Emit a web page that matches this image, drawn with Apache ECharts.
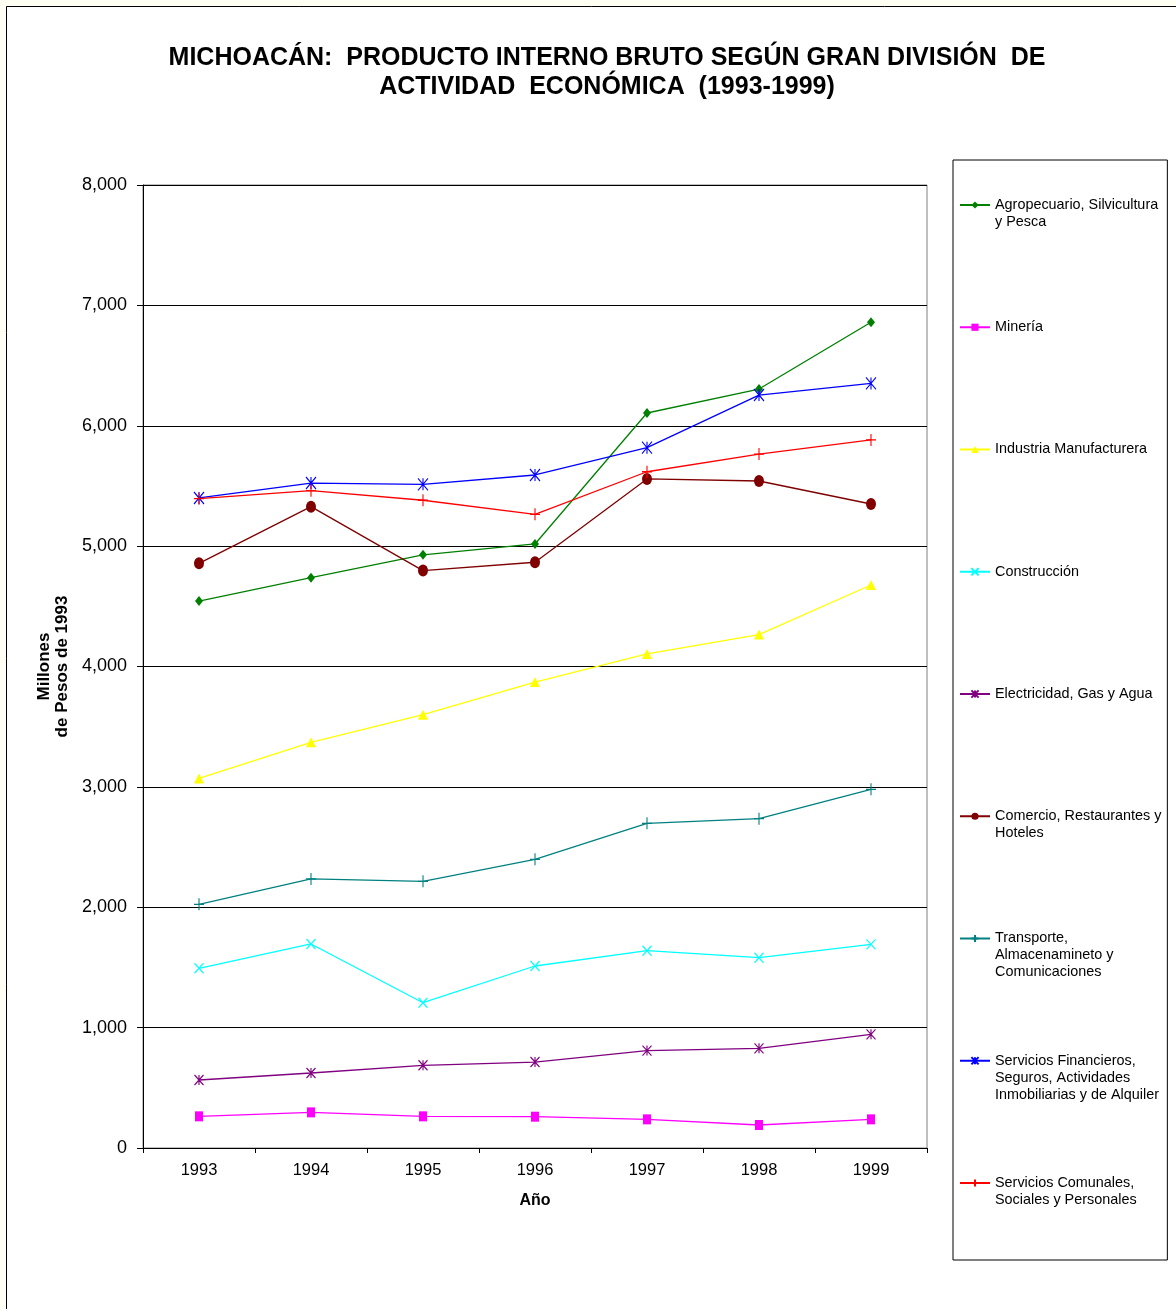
<!DOCTYPE html>
<html>
<head>
<meta charset="utf-8">
<script src="https://cdn.jsdelivr.net/npm/echarts@6/dist/echarts.min.js"></script>
<style>
html,body{margin:0;padding:0;background:#fffff4;}
#c{width:1176px;height:1309px;}
</style>
</head>
<body>
<div id="c"></div>
<script>
const years = ['1993','1994','1995','1996','1997','1998','1999'];
const yTicks = [0,1000,2000,3000,4000,5000,6000,7000,8000];

const agro         = [4544, 4738, 4928, 5018, 6106, 6305, 6860];
const mineria      = [263, 296, 263, 260, 238, 191, 238];
const industria    = [3070, 3370, 3600, 3871, 4104, 4265, 4677];
const construccion = [1493, 1695, 1207, 1512, 1639, 1581, 1692];
const electricidad = [565, 623, 687, 714, 809, 828, 944];
const comercio     = [4857, 5328, 4797, 4866, 5558, 5541, 5350];
const transporte   = [2024, 2235, 2215, 2398, 2697, 2736, 2980];
const servFin      = [5400, 5524, 5513, 5591, 5818, 6255, 6352];
const servCom      = [5394, 5461, 5381, 5264, 5618, 5765, 5882];

const seriesNames = [
  'Agropecuario, Silvicultura y Pesca',
  'Minería',
  'Industria Manufacturera',
  'Construcción',
  'Electricidad, Gas y Agua',
  'Comercio, Restaurantes y Hoteles',
  'Transporte, Almacenamineto y Comunicaciones',
  'Servicios Financieros, Seguros, Actividades Inmobiliarias y de Alquiler',
  'Servicios Comunales, Sociales y Personales'
];
const legendLabels = [
  'Agropecuario, Silvicultura\ny Pesca',
  'Minería',
  'Industria Manufacturera',
  'Construcción',
  'Electricidad, Gas y Agua',
  'Comercio, Restaurantes y\nHoteles',
  'Transporte,\nAlmacenamineto y\nComunicaciones',
  'Servicios Financieros,\nSeguros, Actividades\nInmobiliarias y de Alquiler',
  'Servicios Comunales,\nSociales y Personales'
];
const seriesData = [agro, mineria, industria, construccion, electricidad, comercio, transporte, servFin, servCom];
const colors = ['#008000','#ff00ff','#ffff00','#00ffff','#800080','#800000','#008080','#0000ff','#ff0000'];

const X_PATH = 'path://M0,0L10,10M10,0L0,10';
const AST_PATH = 'path://M0,0L10,10M10,0L0,10M5,0L5,10';
const PLUS_PATH = 'path://M5,0L5,10M0,5L10,5';
const symbols = ['diamond','rect','triangle',X_PATH,AST_PATH,'circle',PLUS_PATH,AST_PATH,PLUS_PATH];
const symSizes = [[8,10],[8,10],[10,10],[9,10],[9,10],[10,12],[10,12],[10,12],[10,12]];
const stroked = [false,false,false,true,true,false,true,true,true];

const FONT = "'Liberation Sans', Arial, sans-serif";
const LH = 17, ITEM_H = 85;

const series = seriesNames.map((n,i)=>({
  name: n,
  type: 'line',
  data: seriesData[i],
  symbol: symbols[i],
  symbolSize: symSizes[i],
  showSymbol: true,
  animation: false,
  lineStyle: {color: colors[i], width: 1.3},
  itemStyle: stroked[i]
    ? {color: colors[i], borderColor: colors[i], borderWidth: 1.2}
    : {color: colors[i], borderWidth: 0},
  emphasis: {disabled: true},
  z: 3
}));

function lineCount(i){ return legendLabels[i].split('\n').length; }

const legendData = seriesNames.map((n,i)=>{
  const N = lineCount(i);
  const p = (ITEM_H - (2*N-1)*LH) / 2;
  return { name: n, textStyle: {padding: [p, 0, p, 0]} };
});

const chart = echarts.init(document.getElementById('c'), null, {renderer:'canvas'});
chart.setOption({
  animation: false,
  backgroundColor: 'transparent',
  textStyle: {fontFamily: FONT},
  graphic: [{
    type: 'rect', z: -10, silent: true,
    shape: {x: 6.5, y: 6.5, width: 1300, height: 1400},
    style: {fill: '#ffffff', stroke: '#000000', lineWidth: 1}
  }],
  title: {
    text: 'MICHOACÁN:  PRODUCTO INTERNO BRUTO SEGÚN GRAN DIVISIÓN  DE\nACTIVIDAD  ECONÓMICA  (1993-1999)',
    left: 602, top: 38.5, textAlign: 'center',
    textStyle: {fontFamily: FONT, fontSize: 25, fontWeight: 'bold', color: '#000', lineHeight: 29}
  },
  legend: {
    orient: 'vertical',
    left: 953, top: 160,
    padding: [2.5, 6, 34.5, 6],
    itemGap: 37.25,
    itemWidth: 30, itemHeight: 9,
    borderColor: '#000', borderWidth: 1,
    backgroundColor: '#fff',
    selectedMode: false,
    formatter: function(name){
      const i = seriesNames.indexOf(name);
      return '\n'.repeat(lineCount(i) - 1) + legendLabels[i];
    },
    textStyle: {fontFamily: FONT, fontSize: 14.4, color: '#000', lineHeight: LH, width: 166, overflow: 'none'},
    data: legendData
  },
  grid: {left: 143, top: 185, right: 249, bottom: 161, show: true, borderColor: '#808080', borderWidth: 1, backgroundColor: '#fff'},
  xAxis: {
    type: 'category',
    data: years,
    boundaryGap: true,
    name: 'Año', nameLocation: 'middle', nameGap: 45,
    nameTextStyle: {fontFamily: FONT, fontSize: 16, fontWeight: 'bold', color: '#000'},
    axisLine: {lineStyle: {color: '#000', width: 1}},
    axisTick: {show: true, length: 5, inside: false, lineStyle: {color: '#000'}},
    axisLabel: {fontFamily: FONT, fontSize: 16.5, color: '#000', margin: 14},
    splitLine: {show: false}
  },
  yAxis: {
    type: 'value',
    min: 0, max: 8000, interval: 1000,
    name: 'Millones\nde Pesos de 1993', nameLocation: 'middle', nameGap: 67, nameRotate: 90,
    nameTextStyle: {fontFamily: FONT, fontSize: 17, fontWeight: 'bold', color: '#000', lineHeight: 18, align: 'center'},
    axisLine: {show: true, lineStyle: {color: '#000', width: 1}},
    axisTick: {show: true, length: 6, lineStyle: {color: '#000'}},
    axisLabel: {fontFamily: FONT, fontSize: 18, color: '#000', margin: 16,
      formatter: v => yTicks.indexOf(v) >= 0 ? v.toLocaleString('en-US') : ''},
    splitLine: {show: true, lineStyle: {color: '#000', width: 1}}
  },
  series: series
});
</script>
</body>
</html>
